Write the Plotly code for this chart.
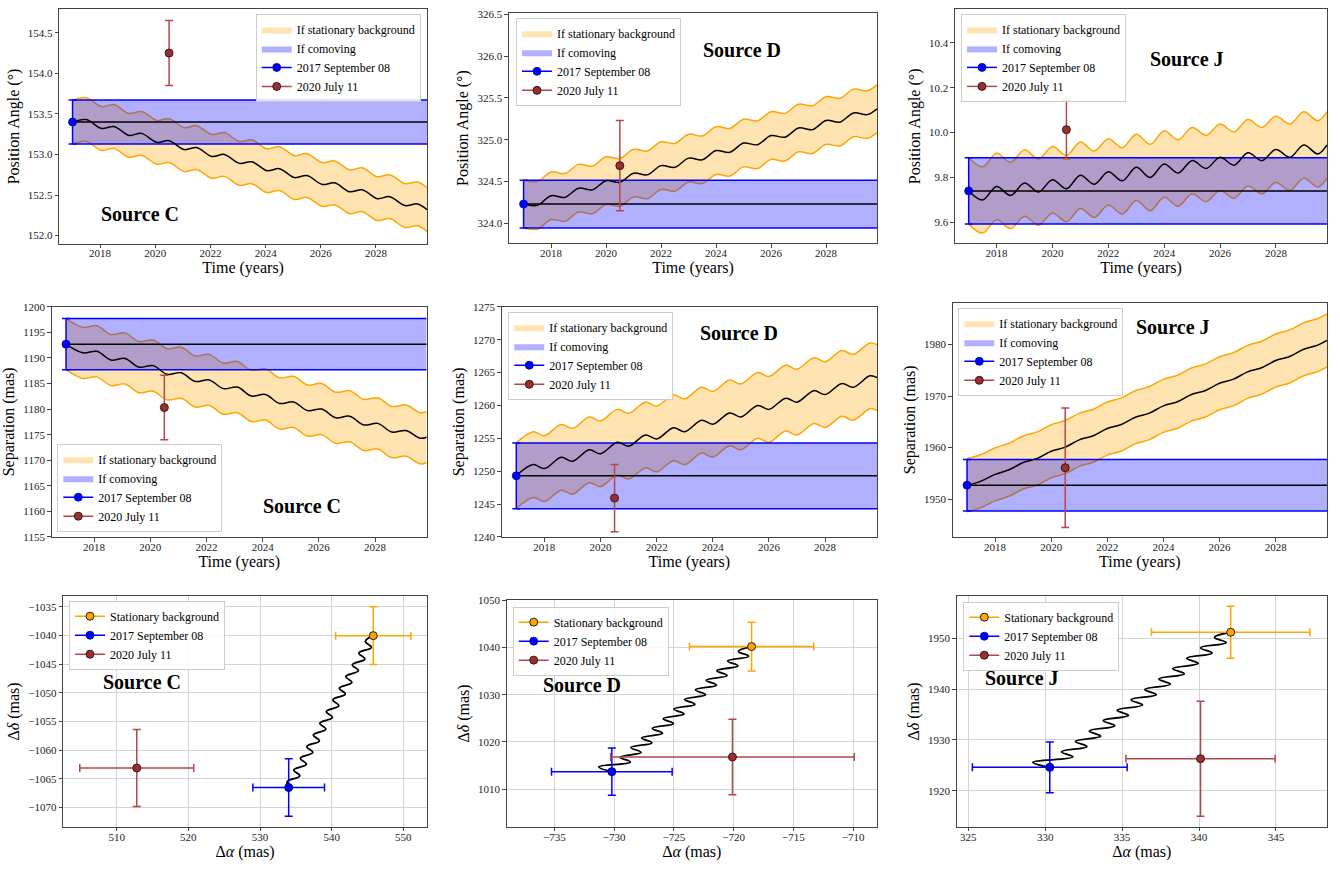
import plotly.graph_objects as go

# ======================= DATA =======================
# ---- Row 1: Position angle (deg) vs time ----
pa_c_t = [2017.0, 2017.5, 2018.05, 2018.5, 2019.05, 2019.5, 2020.05, 2020.5, 2021.05, 2021.5,
          2022.05, 2022.5, 2023.05, 2023.5, 2024.05, 2024.5, 2025.05, 2025.5, 2026.05, 2026.5,
          2027.05, 2027.5, 2028.05, 2028.5, 2029.05, 2029.5, 2029.85]
pa_c_v = [153.40, 153.43, 153.32, 153.345, 153.235, 153.26, 153.15, 153.17, 153.06, 153.085,
          152.975, 153.00, 152.89, 152.91, 152.80, 152.825, 152.715, 152.74, 152.63, 152.65,
          152.54, 152.565, 152.455, 152.48, 152.37, 152.39, 152.32]
pa_c_hw = 0.27

pa_d_t = [2017.0, 2017.5, 2018.0, 2018.5, 2019.0, 2019.5, 2020.0, 2020.5, 2021.0, 2021.5,
          2022.0, 2022.5, 2023.0, 2023.5, 2024.0, 2024.5, 2025.0, 2025.5, 2026.0, 2026.5,
          2027.0, 2027.5, 2028.0, 2028.5, 2029.0, 2029.5, 2029.85]
pa_d_v = [324.23, 324.215, 324.33, 324.31, 324.42, 324.40, 324.51, 324.49, 324.60, 324.58,
          324.69, 324.67, 324.78, 324.76, 324.87, 324.85, 324.96, 324.94, 325.05, 325.03,
          325.14, 325.12, 325.23, 325.21, 325.32, 325.30, 325.37]
pa_d_hw = 0.285

pa_j_t = [2017.0, 2017.5, 2018.0, 2018.5, 2019.0, 2019.5, 2020.0, 2020.5, 2021.0, 2021.5,
          2022.0, 2022.5, 2023.0, 2023.5, 2024.0, 2024.5, 2025.0, 2025.5, 2026.0, 2026.5,
          2027.0, 2027.5, 2028.0, 2028.5, 2029.0, 2029.5, 2029.83]
pa_j_v = [9.74, 9.70, 9.76, 9.72, 9.775, 9.735, 9.79, 9.75, 9.81, 9.77,
          9.825, 9.785, 9.845, 9.80, 9.86, 9.82, 9.875, 9.84, 9.89, 9.855,
          9.91, 9.875, 9.925, 9.89, 9.945, 9.905, 9.945]
pa_j_hw = 0.148

# ---- Row 2: Separation (mas) vs time ----
sep_c_t = [2017.0, 2017.6, 2018.1, 2018.6, 2019.1, 2019.6, 2020.1, 2020.6, 2021.1, 2021.6,
           2022.1, 2022.6, 2023.1, 2023.6, 2024.1, 2024.6, 2025.1, 2025.6, 2026.1, 2026.6,
           2027.1, 2027.6, 2028.1, 2028.6, 2029.1, 2029.6, 2029.84]
sep_c_v = [1192.7, 1191.0, 1191.3, 1189.6, 1189.9, 1188.2, 1188.5, 1186.8, 1187.1, 1185.4,
           1185.7, 1184.0, 1184.3, 1182.55, 1182.85, 1181.1, 1181.4, 1179.7, 1180.0, 1178.3,
           1178.6, 1176.9, 1177.2, 1175.5, 1175.8, 1174.3, 1174.5]
sep_c_hw = 5.0

sep_d_t = [2017.0, 2017.6, 2018.0, 2018.6, 2019.0, 2019.6, 2020.0, 2020.6, 2021.0, 2021.6,
           2022.0, 2022.6, 2023.0, 2023.6, 2024.0, 2024.6, 2025.0, 2025.6, 2026.0, 2026.6,
           2027.0, 2027.6, 2028.0, 2028.6, 2029.0, 2029.6, 2029.85]
sep_d_v = [1249.3, 1251.0, 1250.4, 1252.1, 1251.5, 1253.25, 1252.65, 1254.4, 1253.8, 1255.5,
           1254.9, 1256.6, 1256.0, 1257.75, 1257.15, 1258.85, 1258.25, 1260.0, 1259.4, 1261.1,
           1260.5, 1262.25, 1261.65, 1263.35, 1262.75, 1264.5, 1264.25]
sep_d_hw = 5.0

sep_j_t = [2017.0, 2017.5, 2018.0, 2018.5, 2019.0, 2019.5, 2020.0, 2020.5, 2021.0, 2021.5,
           2022.0, 2022.5, 2023.0, 2023.5, 2024.0, 2024.5, 2025.0, 2025.5, 2026.0, 2026.5,
           2027.0, 2027.5, 2028.0, 2028.5, 2029.0, 2029.5, 2029.83]
sep_j_v = [1952.7, 1953.5, 1954.8, 1955.7, 1957.1, 1957.9, 1959.3, 1960.1, 1961.5, 1962.3,
           1963.7, 1964.5, 1965.9, 1966.7, 1968.1, 1968.9, 1970.3, 1971.1, 1972.5, 1973.3,
           1974.7, 1975.5, 1976.9, 1977.7, 1979.1, 1979.9, 1980.8]
sep_j_hw = 5.15

# ---- Observations in time panels: (value, error) ----
obs1_t = 2017.0
obs2_t = 2020.5
pa_c_obs1 = (153.40, 0.27);   pa_c_obs2 = (154.25, 0.40)
pa_d_obs1 = (324.23, 0.285);  pa_d_obs2 = (324.69, 0.54)
pa_j_obs1 = (9.74, 0.148);    pa_j_obs2 = (10.013, 0.13)
sep_c_obs1 = (1192.7, 5.0);   sep_c_obs2 = (1180.3, 6.3)
sep_d_obs1 = (1249.3, 5.0);   sep_d_obs2 = (1245.9, 5.1)
sep_j_obs1 = (1952.7, 5.0);   sep_j_obs2 = (1956.1, 11.6)

# ---- Row 3: sky-plane tracks (mas) ----
trk_c_x = [534.00, 533.80, 535.56, 534.71, 536.47, 535.62, 537.37, 536.53, 538.28, 537.43,
           539.19, 538.34, 540.10, 539.25, 541.00, 540.16, 541.91, 541.07, 542.82, 541.97,
           543.73, 542.88, 544.63, 543.79, 545.54, 544.70, 545.80]
trk_c_y = [-1066.50, -1065.48, -1064.46, -1063.44, -1062.42, -1061.40, -1060.38, -1059.37,
           -1058.35, -1057.33, -1056.31, -1055.29, -1054.27, -1053.25, -1052.23, -1051.21,
           -1050.19, -1049.17, -1048.15, -1047.13, -1046.12, -1045.10, -1044.08, -1043.06,
           -1042.04, -1041.02, -1040.00]
trk_d_x = [-730.20, -731.30, -728.65, -729.50, -727.75, -728.60, -726.85, -727.70, -725.95,
           -726.80, -725.05, -725.90, -724.15, -725.00, -723.25, -724.10, -722.35, -723.20,
           -721.45, -722.30, -720.55, -721.40, -719.65, -720.50, -718.75, -719.60, -718.50]
trk_d_y = [1013.70, 1014.72, 1015.74, 1016.76, 1017.78, 1018.80, 1019.82, 1020.83, 1021.85,
           1022.87, 1023.89, 1024.91, 1025.93, 1026.95, 1027.97, 1028.99, 1030.01, 1031.03,
           1032.05, 1033.07, 1034.08, 1035.10, 1036.12, 1037.14, 1038.16, 1039.18, 1040.20]
trk_j_x = [330.30, 329.20, 331.80, 331.06, 332.71, 331.96, 333.61, 332.87, 334.52, 333.77,
           335.42, 334.68, 336.33, 335.58, 337.23, 336.48, 338.14, 337.39, 339.04, 338.29,
           339.95, 339.20, 340.85, 340.10, 341.76, 341.01, 342.06]
trk_j_y = [1924.60, 1925.62, 1926.64, 1927.66, 1928.69, 1929.71, 1930.73, 1931.75, 1932.77,
           1933.79, 1934.82, 1935.84, 1936.86, 1937.88, 1938.90, 1939.92, 1940.94, 1941.97,
           1942.99, 1944.01, 1945.03, 1946.05, 1947.07, 1948.10, 1949.12, 1950.14, 1951.16]

# sky points: (x, y, xerr, yerr)
sky_c_bg = (545.8, -1040.0, 5.25, 5.05); sky_c_o1 = (534.0, -1066.5, 5.0, 5.0); sky_c_o2 = (512.8, -1063.1, 7.95, 6.7)
sky_d_bg = (-718.5, 1040.2, 5.2, 5.15);  sky_d_o1 = (-730.2, 1013.7, 5.05, 5.0); sky_d_o2 = (-720.1, 1016.8, 10.2, 8.0)
sky_j_bg = (342.06, 1951.16, 5.15, 5.1); sky_j_o1 = (330.3, 1924.6, 5.03, 5.0); sky_j_o2 = (340.1, 1926.3, 4.85, 11.3)

source_names = ["Source C", "Source D", "Source J"]
lbl_bg = "If stationary background"
lbl_co = "If comoving"
lbl_o1 = "2017 September 08"
lbl_o2 = "2020 July 11"
lbl_sbg = "Stationary background"

# ======================= STYLE / LAYOUT =======================
W, H = 1340, 874
FONT = "Liberation Serif"
ORANGE = "#ffa500"
BLUE = "#0000ff"
BROWN = "#a52a2a"
BROWN_ERR = "#b34848"
FILL_OR = "rgba(255,165,0,0.30)"
FILL_BL = "rgba(0,0,255,0.31)"

# plot boxes in pixels: (left, top, right, bottom)
boxes = [
    (59.3, 3.3, 427, 241), (509, 6.7, 877, 240.7), (955, 3.3, 1327, 240.7),
    (51.7, 305, 426.7, 538.3), (501.7, 305, 877, 538.3), (952.7, 300.7, 1327, 538.3),
    (63.3, 598.3, 426.7, 832.3), (506.7, 602.3, 877, 832.3), (956.7, 598.3, 1327, 832.3),
]
xranges = [[2016.52, 2029.85], [2016.47, 2029.85], [2016.51, 2029.83],
           [2016.49, 2029.84], [2016.48, 2029.85], [2016.49, 2029.83],
           [502.55, 553.26], [-739.0, -708.0], [324.25, 348.32]]
yranges = [[151.9, 154.79], [323.76, 326.52], [9.506, 10.55],
           [1155, 1200], [1240, 1275], [1942.66, 1988.16],
           [-1073.37, -1033.1], [1002.0, 1050.07], [1912.9, 1958.27]]
ytick = [(152.0, 0.5), (324.0, 0.5), (9.6, 0.2), (1155, 5), (1240, 5), (1950, 10),
         (-1070, 5), (1010, 10), (1920, 10)]
xtick = [(2018, 2)] * 6 + [(510, 10), (-735, 5), (325, 5)]
yfmt = [".1f", ".1f", ".1f", "d", "d", "d", "d", "d", "d"]
# legend anchor points (px) and vertical anchor
leg_pos = [(255.7, 8, "top"), (516, 12, "top"), (961, 8, "top"), (57.3, 533, "bottom"),
           (508.3, 310, "top"), (958.3, 306, "top"), (69, 603, "top"), (512.7, 609, "top"),
           (963.3, 604, "top")]
# source label positions as fraction of each plot box
src_pos = [(0.219, 0.127), (0.634, 0.839), (0.624, 0.789), (0.668, 0.135), (0.632, 0.886),
           (0.588, 0.894), (0.216, 0.629), (0.203, 0.626), (0.176, 0.644)]

fig = go.Figure()


def ax_names(i):
    s = "" if i == 0 else str(i + 1)
    return "x" + s, "y" + s, "legend" + s


def add_legend_entries(i, kind):
    _, _, lg = ax_names(i)
    if kind == "time":
        fig.add_trace(go.Scatter(x=[None], y=[None], mode="lines", fill="toself", fillcolor=FILL_OR,
                                 line=dict(width=0, color=FILL_OR), name=lbl_bg, legend=lg))
        fig.add_trace(go.Scatter(x=[None], y=[None], mode="lines", fill="toself", fillcolor=FILL_BL,
                                 line=dict(width=0, color=FILL_BL), name=lbl_co, legend=lg))
    else:
        fig.add_trace(go.Scatter(x=[None], y=[None], mode="lines+markers", name=lbl_sbg, legend=lg,
                                 line=dict(color=ORANGE, width=1.5),
                                 marker=dict(color=ORANGE, size=8, line=dict(color="#222", width=1))))
    fig.add_trace(go.Scatter(x=[None], y=[None], mode="lines+markers", name=lbl_o1, legend=lg,
                             line=dict(color=BLUE, width=1.5),
                             marker=dict(color=BLUE, size=8, line=dict(color="#00008b", width=0.8))))
    fig.add_trace(go.Scatter(x=[None], y=[None], mode="lines+markers", name=lbl_o2, legend=lg,
                             line=dict(color=BROWN_ERR, width=1.5),
                             marker=dict(color=BROWN, size=8, line=dict(color="#222", width=1))))


def add_time_panel(i, t, v, hw, o1, o2):
    xa, ya, _ = ax_names(i)
    up = [a + hw for a in v]
    lo = [a - hw for a in v]
    # stationary background band
    fig.add_trace(go.Scatter(x=t, y=lo, mode="lines", line=dict(color=ORANGE, width=1.5, shape="spline"),
                             xaxis=xa, yaxis=ya, showlegend=False, hoverinfo="skip"))
    fig.add_trace(go.Scatter(x=t, y=up, mode="lines", line=dict(color=ORANGE, width=1.5, shape="spline"),
                             fill="tonexty", fillcolor=FILL_OR,
                             xaxis=xa, yaxis=ya, showlegend=False, hoverinfo="skip"))
    # comoving band
    bx = [t[0], t[-1]]
    fig.add_trace(go.Scatter(x=bx, y=[o1[0] - o1[1]] * 2, mode="lines", line=dict(color=BLUE, width=1.5),
                             xaxis=xa, yaxis=ya, showlegend=False, hoverinfo="skip"))
    fig.add_trace(go.Scatter(x=bx, y=[o1[0] + o1[1]] * 2, mode="lines", line=dict(color=BLUE, width=1.5),
                             fill="tonexty", fillcolor=FILL_BL,
                             xaxis=xa, yaxis=ya, showlegend=False, hoverinfo="skip"))
    # central tracks
    fig.add_trace(go.Scatter(x=bx, y=[o1[0]] * 2, mode="lines", line=dict(color="black", width=1.5),
                             xaxis=xa, yaxis=ya, showlegend=False, hoverinfo="skip"))
    fig.add_trace(go.Scatter(x=t, y=v, mode="lines", line=dict(color="black", width=1.5, shape="spline"),
                             xaxis=xa, yaxis=ya, showlegend=False, hoverinfo="skip"))
    # observations
    fig.add_trace(go.Scatter(x=[obs1_t], y=[o1[0]], mode="markers",
                             marker=dict(color=BLUE, size=8, line=dict(color="#00008b", width=0.8)),
                             error_y=dict(type="data", array=[o1[1]], color=BLUE, thickness=1.5, width=4),
                             xaxis=xa, yaxis=ya, showlegend=False))
    fig.add_trace(go.Scatter(x=[obs2_t], y=[o2[0]], mode="markers",
                             marker=dict(color=BROWN, size=8, line=dict(color="#222", width=1)),
                             error_y=dict(type="data", array=[o2[1]], color=BROWN_ERR, thickness=1.5, width=4),
                             xaxis=xa, yaxis=ya, showlegend=False))
    add_legend_entries(i, "time")


def add_sky_panel(i, tx, ty, bg, o1, o2):
    xa, ya, _ = ax_names(i)
    fig.add_trace(go.Scatter(x=tx, y=ty, mode="lines",
                             line=dict(color="black", width=1.8, shape="spline", smoothing=1.2),
                             xaxis=xa, yaxis=ya, showlegend=False, hoverinfo="skip"))
    for p, col, ecol, edge in [(bg, ORANGE, ORANGE, "#222"), (o1, BLUE, BLUE, "#00008b"),
                               (o2, BROWN, BROWN_ERR, "#222")]:
        fig.add_trace(go.Scatter(x=[p[0]], y=[p[1]], mode="markers",
                                 marker=dict(color=col, size=8, line=dict(color=edge, width=1)),
                                 error_x=dict(type="data", array=[p[2]], color=ecol, thickness=1.5, width=4),
                                 error_y=dict(type="data", array=[p[3]], color=ecol, thickness=1.5, width=4),
                                 xaxis=xa, yaxis=ya, showlegend=False))
    add_legend_entries(i, "sky")


add_time_panel(0, pa_c_t, pa_c_v, pa_c_hw, pa_c_obs1, pa_c_obs2)
add_time_panel(1, pa_d_t, pa_d_v, pa_d_hw, pa_d_obs1, pa_d_obs2)
add_time_panel(2, pa_j_t, pa_j_v, pa_j_hw, pa_j_obs1, pa_j_obs2)
add_time_panel(3, sep_c_t, sep_c_v, sep_c_hw, sep_c_obs1, sep_c_obs2)
add_time_panel(4, sep_d_t, sep_d_v, sep_d_hw, sep_d_obs1, sep_d_obs2)
add_time_panel(5, sep_j_t, sep_j_v, sep_j_hw, sep_j_obs1, sep_j_obs2)
add_sky_panel(6, trk_c_x, trk_c_y, sky_c_bg, sky_c_o1, sky_c_o2)
add_sky_panel(7, trk_d_x, trk_d_y, sky_d_bg, sky_d_o1, sky_d_o2)
add_sky_panel(8, trk_j_x, trk_j_y, sky_j_bg, sky_j_o1, sky_j_o2)

layout = dict(width=W, height=H, margin=dict(l=0, r=0, t=0, b=0),
              paper_bgcolor="white", plot_bgcolor="white",
              font=dict(family=FONT, color="black"), annotations=[])

for i in range(9):
    l, t, r, b = boxes[i]
    s = "" if i == 0 else str(i + 1)
    sky = i >= 6
    xtitle = "Time (years)" if not sky else "Δ<i>α</i> (mas)"
    if i < 3:
        ytitle = "Position Angle (°)"
    elif i < 6:
        ytitle = "Separation (mas)"
    else:
        ytitle = "Δ<i>δ</i> (mas)"
    common = dict(showline=True, linecolor="#444", linewidth=1.2, mirror=True, ticks="outside",
                  ticklen=3.5, tickwidth=1, tickcolor="#444", zeroline=False,
                  tickfont=dict(family=FONT, size=11, color="#222"),
                  showgrid=sky, gridcolor="#d3d3d3", gridwidth=1)
    layout["xaxis" + s] = dict(common, domain=[l / W, r / W], range=xranges[i], anchor="y" + s,
                               tick0=xtick[i][0], dtick=xtick[i][1], ticklabelstandoff=-4,
                               title=dict(text=xtitle, font=dict(family=FONT, size=16), standoff=2))
    layout["yaxis" + s] = dict(common, domain=[1 - b / H, 1 - t / H], range=yranges[i], anchor="x" + s,
                               tick0=ytick[i][0], dtick=ytick[i][1], tickformat=yfmt[i],
                               title=dict(text=ytitle, font=dict(family=FONT, size=16), standoff=4))
    lx, ly, anc = leg_pos[i]
    layout["legend" + s] = dict(x=lx / W, y=1 - ly / H, xanchor="left", yanchor=anc,
                                bgcolor="rgba(255,255,255,0.85)", bordercolor="#cccccc", borderwidth=1,
                                font=dict(family=FONT, size=12, color="black"), itemwidth=30,
                                tracegroupgap=0, traceorder="normal")
    fx, fy = src_pos[i]
    layout["annotations"].append(dict(text="<b>%s</b>" % source_names[i % 3], x=fx, y=fy,
                                      xref="x%s domain" % s, yref="y%s domain" % s,
                                      showarrow=False, xanchor="center", yanchor="middle",
                                      font=dict(family=FONT, size=20, color="black")))

fig.update_layout(**layout)
fig.write_html("out.html", config={"displayModeBar": False},
               post_script="document.body.style.margin='0';")
